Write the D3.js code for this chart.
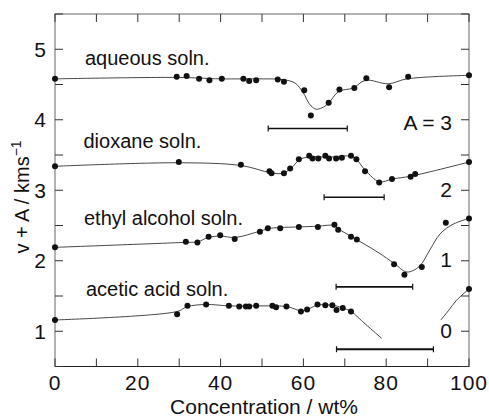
<!DOCTYPE html>
<html>
<head>
<meta charset="utf-8">
<script src="https://cdn.jsdelivr.net/npm/d3@7"></script>
<style>
  body { margin: 0; background: #fff; }
  svg text { font-family: "Liberation Sans", Arial, Helvetica, sans-serif; fill: #111; }
</style>
</head>
<body>
<div id="chart"></div>
<script>
// tick values
const xTicks = [0, 20, 40, 60, 80, 100];
const xMinor = [10, 30, 50, 70, 90];
const yTicks = [1, 2, 3, 4, 5];
const yMinor = [0.5, 1.5, 2.5, 3.5, 4.5, 5.5];

// measured points [wt%, v + A]
const aqueousPts = [[0,4.58],[29.4,4.61],[31.8,4.62],[34.8,4.58],[37.3,4.56],[40.3,4.58],[45.5,4.58],[46.9,4.55],[48.6,4.56],[53.8,4.57],[55.3,4.54],[60.2,4.42],[61.8,4.06],[66.1,4.24],[68.7,4.43],[72.3,4.45],[75.2,4.59],[80.7,4.46],[85.3,4.61],[100,4.63]];
const dioxanePts = [[0,3.34],[29.9,3.40],[44.9,3.36],[51.8,3.27],[52.3,3.24],[55.3,3.24],[56.8,3.31],[58.9,3.44],[61.4,3.49],[62.2,3.45],[63.6,3.45],[65.3,3.49],[66.2,3.45],[67.9,3.45],[69.3,3.46],[71.5,3.49],[72.8,3.44],[74.9,3.27],[78.3,3.11],[81.4,3.16],[85.9,3.19],[87.0,3.23],[100,3.40]];
const ethylPts = [[0,2.19],[31.6,2.27],[34.4,2.26],[37.1,2.34],[39.9,2.36],[43.4,2.31],[49.5,2.41],[51.4,2.46],[54.4,2.46],[58.9,2.48],[63.5,2.48],[67.5,2.51],[68.4,2.44],[71.5,2.34],[72.9,2.30],[81.9,1.95],[84.4,1.80],[88.6,1.91],[94.4,2.54],[100,2.60]];
const aceticPts = [[0,1.16],[29.5,1.24],[32,1.36],[36.5,1.38],[42,1.36],[44.5,1.35],[46.1,1.35],[46.9,1.35],[48.6,1.36],[52.5,1.36],[53.4,1.34],[55.9,1.35],[59.4,1.28],[60.9,1.31],[63.4,1.38],[65.3,1.37],[67,1.37],[68,1.30],[69.5,1.33],[71.5,1.28],[100,1.60]];

// smooth guide curves drawn through the data
const aqueousFit = [[0,4.58],[30,4.60],[40,4.58],[50,4.58],[55,4.57],[58,4.52],[60,4.38],[61.5,4.22],[63,4.15],[64.5,4.17],[66,4.23],[68.5,4.40],[72,4.45],[75,4.56],[80.5,4.51],[85,4.58],[100,4.63]];
const dioxaneFit = [[0,3.34],[30,3.39],[45,3.35],[52,3.25],[55,3.24],[57,3.31],[59,3.43],[61,3.47],[66,3.47],[72,3.47],[75,3.28],[78.3,3.12],[81.5,3.16],[86,3.20],[100,3.40]];
const ethylFit = [[0,2.19],[31,2.26],[34.5,2.27],[37,2.33],[40,2.35],[43.5,2.33],[49.5,2.42],[52,2.46],[59,2.48],[63.5,2.49],[67.5,2.50],[68.5,2.45],[72,2.33],[78,2.12],[82,1.96],[85,1.84],[88,1.92],[90.6,2.16],[93,2.38],[96.2,2.52],[100,2.60]];
const aceticFit = [[0,1.16],[29.5,1.28],[32,1.35],[36.5,1.38],[42,1.36],[50,1.36],[56,1.35],[59.4,1.29],[61,1.31],[63.4,1.37],[67,1.37],[69.5,1.33],[71.5,1.28],[75,1.10],[78.9,0.90]];
const aceticFit2 = [[93.2,1.16],[95,1.29],[97,1.44],[100,1.60]];

// horizontal range bars [x0, x1, y]
const rangeBars = [[51.5,70.6,3.875],[65,79.5,2.90],[67.9,86.4,1.63],[68,91.4,0.745]];

const seriesNames = ["aqueous soln.", "dioxane soln.", "ethyl alcohol soln.", "acetic acid soln."];
const offsetLabels = ["A = 3", "2", "1", "0"];
const offsetValues = [4.0, 3.05, 2.05, 1.05];

const W = 489, H = 419;
const x = d3.scaleLinear().domain([0, 100]).range([55, 469]);
const y = d3.scaleLinear().domain([0.5, 5.5]).range([366.5, 14]);

const svg = d3.select("#chart").append("svg")
  .attr("width", W).attr("height", H);

// frame
svg.append("rect")
  .attr("x", x(0)).attr("y", y(5.5))
  .attr("width", x(100) - x(0)).attr("height", y(0.5) - y(5.5))
  .attr("fill", "none").attr("stroke", "#666").attr("stroke-width", 1);
svg.append("line")
  .attr("x1", x(0)).attr("x2", x(100)).attr("y1", y(0.5)).attr("y2", y(0.5))
  .attr("stroke", "#222").attr("stroke-width", 1.2);

// inward ticks on all four sides
const tl = 8;
const ticks = svg.append("g").attr("stroke", "#333").attr("stroke-width", 1);
xTicks.concat(xMinor).forEach(v => {
  ticks.append("line").attr("x1", x(v)).attr("x2", x(v)).attr("y1", y(0.5)).attr("y2", y(0.5) - tl);
  ticks.append("line").attr("x1", x(v)).attr("x2", x(v)).attr("y1", y(5.5)).attr("y2", y(5.5) + tl);
});
yTicks.concat(yMinor).forEach(v => {
  ticks.append("line").attr("x1", x(0)).attr("x2", x(0) + tl).attr("y1", y(v)).attr("y2", y(v));
  ticks.append("line").attr("x1", x(100)).attr("x2", x(100) - tl).attr("y1", y(v)).attr("y2", y(v));
});

// tick labels
svg.append("g").selectAll("text").data(xTicks).join("text")
  .attr("x", d => x(d)).attr("y", 390)
  .attr("text-anchor", "middle")
  .style("font-size", "21px").style("letter-spacing", "1px")
  .text(d => d);
svg.append("g").selectAll("text").data(yTicks).join("text")
  .attr("x", 46).attr("y", d => y(d) + 7.5)
  .attr("text-anchor", "end")
  .style("font-size", "21px")
  .text(d => d);

// axis titles
svg.append("text")
  .attr("x", 264).attr("y", 414)
  .attr("text-anchor", "middle")
  .style("font-size", "21px")
  .text("Concentration / wt%");
const yl = svg.append("text")
  .attr("transform", `translate(29, 197) rotate(-90)`)
  .attr("text-anchor", "middle")
  .style("font-size", "20px");
yl.append("tspan").text("v + A / kms");
yl.append("tspan").attr("dy", -8).style("font-size", "14px").text("−1");

// curves
const line = d3.line().x(d => x(d[0])).y(d => y(d[1])).curve(d3.curveCatmullRom.alpha(0.5));
[aqueousFit, dioxaneFit, ethylFit, aceticFit, aceticFit2].forEach(f => {
  svg.append("path").attr("d", line(f))
    .attr("fill", "none").attr("stroke", "#333").attr("stroke-width", 0.9);
});

// points
[aqueousPts, dioxanePts, ethylPts, aceticPts].forEach(pts => {
  svg.append("g").selectAll("circle").data(pts).join("circle")
    .attr("cx", d => x(d[0])).attr("cy", d => y(d[1])).attr("r", 3)
    .attr("fill", "#111");
});

// range bars with end caps
rangeBars.forEach((b, i) => {
  const g = svg.append("g").attr("stroke", "#111").attr("stroke-width", i === 3 ? 2 : 1.6);
  g.append("line").attr("x1", x(b[0])).attr("x2", x(b[1])).attr("y1", y(b[2])).attr("y2", y(b[2]));
  g.append("line").attr("x1", x(b[0])).attr("x2", x(b[0])).attr("y1", y(b[2]) - 3).attr("y2", y(b[2]) + 3).attr("stroke-width", 1.2);
  g.append("line").attr("x1", x(b[1])).attr("x2", x(b[1])).attr("y1", y(b[2]) - 3).attr("y2", y(b[2]) + 3).attr("stroke-width", 1.2);
});

// series names
const nameY = [65, 148, 224.5, 296];
const nameX = [85, 83.5, 84, 86];
seriesNames.forEach((s, i) => {
  svg.append("text").attr("x", nameX[i]).attr("y", nameY[i])
    .style("font-size", "20px").text(s);
});

// offset labels
offsetLabels.forEach((s, i) => {
  svg.append("text").attr("x", 452).attr("y", y(offsetValues[i]) + 10)
    .attr("text-anchor", "end")
    .style("font-size", "21px").text(s);
});
</script>
</body>
</html>
